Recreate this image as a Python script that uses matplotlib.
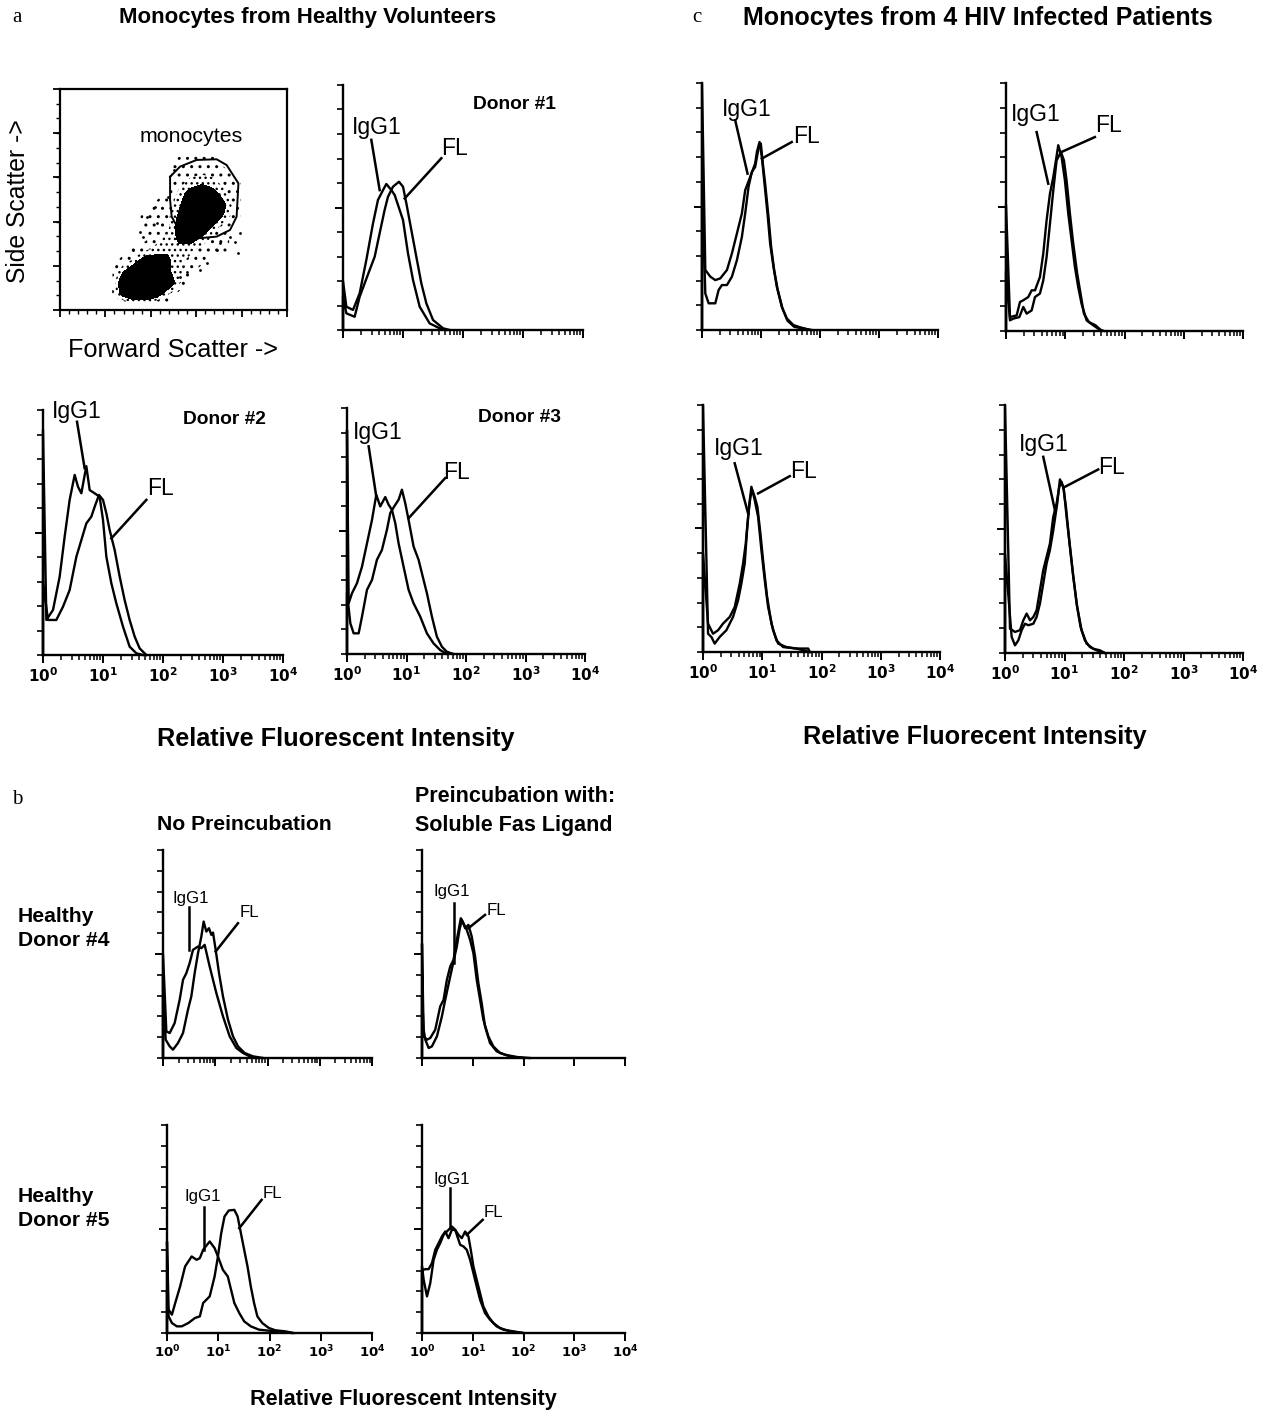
import numpy as np
import matplotlib
matplotlib.use("Agg")
import matplotlib.pyplot as plt
from matplotlib.ticker import FixedLocator, LogLocator, NullFormatter, MultipleLocator

plt.rcParams['font.family'] = ['Liberation Sans', 'DejaVu Sans']
plt.rcParams['mathtext.fontset'] = 'dejavusans'
plt.rcParams['hatch.color'] = 'black'
plt.rcParams['hatch.linewidth'] = 1.0

# ---------------- DATA ----------------
# Histogram curves: x in log10 decades of fluorescence (0 -> 10^0 ... 4 -> 10^4), y in % of axis height
D1_IGG_X = [0.0, 0.056, 0.167, 0.278, 0.389, 0.5, 0.583, 0.667, 0.722, 0.806, 0.861, 0.917, 1.0, 1.083, 1.167, 1.278, 1.444, 1.611, 1.722]
D1_IGG_Y = [20, 9.5, 8.2, 15.0, 28.6, 43.5, 53.1, 57.1, 59.6, 57.1, 55.1, 51.0, 44.9, 31.3, 20.4, 9.5, 2.7, 0.7, 0]
D1_FL_X = [0.0, 0.056, 0.194, 0.278, 0.444, 0.528, 0.611, 0.694, 0.75, 0.833, 0.933, 1.0, 1.056, 1.139, 1.222, 1.306, 1.389, 1.5, 1.667, 1.778]
D1_FL_Y = [14, 6.8, 5.4, 13.6, 24.5, 29.9, 39.5, 49.0, 54.4, 58.5, 60.5, 58.5, 51.7, 40.8, 29.9, 19.0, 10.9, 4.1, 0.7, 0]

D2_IGG_X = [0.0, 0.056, 0.167, 0.278, 0.361, 0.444, 0.528, 0.583, 0.639, 0.722, 0.778, 0.861, 0.944, 1.0, 1.056, 1.139, 1.222, 1.333, 1.444, 1.556, 1.667]
D2_IGG_Y = [92, 14.3, 18.4, 32.0, 48.3, 63.3, 73.5, 68.7, 66.0, 77.1, 67.3, 66.0, 64.6, 55.1, 40.1, 29.3, 21.1, 11.6, 3.4, 0.7, 0]
D2_FL_X = [0.0, 0.083, 0.222, 0.333, 0.444, 0.556, 0.639, 0.722, 0.806, 0.861, 0.933, 1.0, 1.056, 1.111, 1.194, 1.278, 1.361, 1.444, 1.528, 1.611, 1.722]
D2_FL_Y = [30, 14.3, 14.3, 19.7, 26.5, 40.1, 46.9, 53.7, 56.5, 60.5, 65.3, 63.3, 57.8, 51.0, 42.9, 32.0, 22.4, 14.3, 7.5, 2.7, 0]

D3_IGG_X = [0.0, 0.028, 0.084, 0.168, 0.252, 0.336, 0.42, 0.492, 0.559, 0.643, 0.699, 0.755, 0.811, 0.867, 0.951, 1.035, 1.119, 1.231, 1.343, 1.455, 1.566, 1.678]
D3_IGG_Y = [91, 20.6, 24.7, 28.8, 35.5, 45.0, 54.5, 64.7, 60.0, 63.8, 60.7, 58.6, 53.2, 45.0, 35.5, 26.1, 20.6, 15.2, 8.4, 4.3, 1.6, 0]
D3_FL_X = [0.0, 0.056, 0.112, 0.196, 0.252, 0.336, 0.42, 0.503, 0.587, 0.671, 0.727, 0.794, 0.867, 0.923, 0.979, 1.035, 1.119, 1.203, 1.287, 1.343, 1.427, 1.51, 1.594, 1.678, 1.79]
D3_FL_Y = [25, 12.5, 8.4, 8.4, 15.2, 26.1, 30.1, 38.3, 42.3, 50.5, 57.3, 60.0, 62.7, 66.8, 61.3, 54.5, 43.7, 38.3, 30.1, 24.7, 15.2, 7.1, 3.0, 0.9, 0]

HIV1_IGG_X = [0.0, 0.056, 0.141, 0.225, 0.31, 0.423, 0.507, 0.592, 0.676, 0.732, 0.817, 0.901, 0.93, 0.975, 1.014, 1.054, 1.11, 1.155, 1.211, 1.268, 1.352, 1.437, 1.549, 1.662, 1.831]
HIV1_IGG_Y = [100, 24.3, 21.6, 20.2, 20.9, 24.3, 31.0, 39.1, 47.2, 56.6, 62.0, 67.4, 72.1, 76.1, 70.1, 60.6, 47.2, 35.0, 25.6, 17.5, 9.4, 4.7, 2.0, 1.1, 0]
HIV1_FL_X = [0.0, 0.056, 0.113, 0.225, 0.282, 0.338, 0.423, 0.507, 0.592, 0.676, 0.732, 0.789, 0.845, 0.901, 0.958, 0.997, 1.031, 1.07, 1.127, 1.172, 1.223, 1.279, 1.363, 1.448, 1.561, 1.69, 1.859]
HIV1_FL_Y = [60, 14.8, 10.8, 10.8, 16.2, 18.2, 18.2, 21.6, 28.3, 37.7, 47.2, 58.0, 64.0, 66.0, 73.5, 75.5, 67.4, 59.3, 45.8, 33.7, 24.3, 16.8, 8.8, 3.8, 1.3, 0.7, 0]

HIV2_IGG_X = [0.0, 0.067, 0.18, 0.236, 0.292, 0.376, 0.433, 0.489, 0.573, 0.629, 0.685, 0.742, 0.798, 0.843, 0.882, 0.938, 0.994, 1.051, 1.107, 1.163, 1.219, 1.275, 1.36, 1.472, 1.612]
HIV2_IGG_Y = [51, 5.6, 6.3, 11.7, 12.4, 13.7, 16.4, 16.4, 21.8, 31.2, 44.6, 55.4, 62.1, 68.8, 74.9, 70.2, 60.8, 47.3, 36.6, 25.8, 17.7, 11.0, 4.3, 2.3, 0]
HIV2_FL_X = [0.0, 0.067, 0.124, 0.225, 0.292, 0.348, 0.433, 0.489, 0.573, 0.629, 0.685, 0.742, 0.798, 0.854, 0.927, 0.978, 1.022, 1.079, 1.135, 1.202, 1.258, 1.315, 1.399, 1.511, 1.596, 1.652]
HIV2_FL_Y = [24, 4.3, 5.0, 5.6, 9.7, 7.0, 8.3, 13.7, 15.1, 20.4, 29.8, 43.3, 56.7, 68.8, 72.2, 68.8, 60.8, 47.3, 35.2, 23.1, 15.1, 7.0, 3.6, 2.3, 0.5, 0]

HIV3_IGG_X = [0.0, 0.085, 0.141, 0.197, 0.282, 0.394, 0.507, 0.592, 0.648, 0.704, 0.744, 0.777, 0.817, 0.873, 0.93, 0.986, 1.042, 1.099, 1.183, 1.268, 1.408, 1.577, 1.775, 1.803]
HIV3_IGG_Y = [100, 7.4, 6.1, 3.4, 6.1, 8.8, 14.2, 20.9, 27.7, 35.8, 49.3, 58.8, 66.9, 61.5, 54.7, 41.2, 29.1, 18.2, 8.8, 3.4, 2.0, 1.4, 1.4, 0]
HIV3_FL_X = [0.0, 0.085, 0.169, 0.254, 0.338, 0.451, 0.535, 0.62, 0.676, 0.721, 0.761, 0.8, 0.834, 0.873, 0.918, 0.969, 1.025, 1.082, 1.155, 1.239, 1.352, 1.577, 1.803]
HIV3_FL_Y = [40, 11.5, 7.4, 8.8, 11.5, 14.2, 18.2, 27.7, 35.8, 43.9, 54.7, 62.8, 65.5, 62.8, 58.8, 48.0, 34.5, 22.3, 11.5, 4.7, 2.0, 1.4, 0]

HIV4_IGG_X = [0.0, 0.084, 0.168, 0.252, 0.308, 0.364, 0.42, 0.476, 0.531, 0.587, 0.643, 0.699, 0.755, 0.811, 0.867, 0.912, 0.951, 0.99, 1.035, 1.091, 1.147, 1.214, 1.287, 1.371, 1.483, 1.594, 1.678]
HIV4_IGG_Y = [100, 9.8, 8.5, 9.2, 13.2, 15.9, 13.2, 14.5, 17.2, 25.3, 33.4, 38.8, 44.1, 54.9, 60.3, 67.0, 69.0, 65.7, 54.9, 42.8, 30.7, 18.6, 9.2, 3.8, 1.7, 1.1, 0]
HIV4_FL_X = [0.0, 0.112, 0.168, 0.224, 0.28, 0.336, 0.392, 0.476, 0.531, 0.587, 0.643, 0.699, 0.755, 0.811, 0.878, 0.923, 0.979, 1.024, 1.08, 1.136, 1.203, 1.27, 1.343, 1.427, 1.538, 1.678]
HIV4_FL_Y = [40, 6.5, 3.1, 5.1, 9.2, 11.8, 11.2, 11.8, 14.5, 19.9, 28.0, 36.1, 41.5, 49.5, 60.3, 70.0, 67.0, 59.0, 45.5, 33.4, 19.9, 10.5, 5.1, 2.4, 1.1, 0]

D4_NO_IGG_X = [0.0, 0.064, 0.128, 0.223, 0.319, 0.383, 0.447, 0.51, 0.574, 0.67, 0.734, 0.797, 0.893, 1.021, 1.148, 1.276, 1.404, 1.531, 1.659, 1.786]
D4_NO_IGG_Y = [50, 12.8, 12.0, 16.8, 28.0, 37.6, 40.8, 45.6, 52.0, 53.6, 52.8, 54.4, 44.0, 31.2, 20.0, 10.4, 4.8, 2.4, 0.8, 0]
D4_NO_FL_X = [0.0, 0.051, 0.128, 0.191, 0.287, 0.383, 0.478, 0.542, 0.606, 0.67, 0.734, 0.778, 0.829, 0.88, 0.925, 0.957, 1.008, 1.072, 1.148, 1.244, 1.34, 1.435, 1.563, 1.722, 1.914]
D4_NO_FL_Y = [40, 8.8, 5.6, 4.0, 7.2, 12.0, 23.2, 29.6, 40.8, 50.4, 58.4, 65.6, 60.8, 62.4, 59.2, 60.3, 52.0, 40.8, 29.6, 18.4, 10.4, 5.6, 2.4, 0.8, 0]

D4_SFL_IGG_X = [0.0, 0.033, 0.098, 0.163, 0.261, 0.359, 0.425, 0.49, 0.556, 0.621, 0.686, 0.765, 0.817, 0.882, 0.948, 1.013, 1.078, 1.144, 1.209, 1.307, 1.405, 1.536, 1.732, 1.993]
D4_SFL_IGG_Y = [55, 10.4, 8.8, 9.6, 13.6, 24.8, 28.0, 37.6, 44.0, 47.2, 56.8, 67.2, 64.8, 61.6, 56.8, 50.4, 37.6, 28.0, 18.4, 10.4, 5.6, 2.4, 0.8, 0]
D4_SFL_FL_X = [0.0, 0.033, 0.065, 0.131, 0.196, 0.294, 0.392, 0.458, 0.542, 0.621, 0.686, 0.739, 0.784, 0.85, 0.915, 0.98, 1.046, 1.111, 1.176, 1.242, 1.34, 1.471, 1.634, 1.863, 2.124]
D4_SFL_FL_Y = [30, 13.6, 8.8, 4.8, 5.6, 10.4, 20.0, 28.0, 37.6, 46.4, 53.6, 61.6, 66.4, 62.4, 64.0, 58.4, 48.8, 36.0, 26.4, 15.2, 7.2, 3.2, 1.6, 0.5, 0]

D5_NO_IGG_X = [0.0, 0.032, 0.096, 0.16, 0.256, 0.353, 0.481, 0.577, 0.641, 0.705, 0.833, 0.929, 0.994, 1.09, 1.186, 1.25, 1.314, 1.41, 1.506, 1.635, 1.795, 2.115, 2.436]
D5_NO_IGG_Y = [44, 11.2, 8.8, 14.4, 22.4, 32.0, 36.8, 35.2, 36.0, 40.0, 44.0, 40.8, 36.8, 30.4, 27.2, 20.8, 14.4, 9.6, 5.6, 3.2, 1.6, 0.8, 0]
D5_NO_FL_X = [0.0, 0.032, 0.096, 0.192, 0.288, 0.417, 0.545, 0.641, 0.705, 0.833, 0.929, 0.994, 1.058, 1.122, 1.205, 1.314, 1.378, 1.442, 1.506, 1.571, 1.635, 1.699, 1.763, 1.859, 1.987, 2.115, 2.308, 2.468]
D5_NO_FL_Y = [20, 8.0, 4.8, 3.2, 3.2, 4.8, 7.2, 8.0, 14.4, 17.6, 27.2, 36.8, 48.0, 56.0, 58.9, 59.2, 56.0, 48.0, 40.0, 32.0, 22.4, 14.4, 8.0, 4.8, 2.4, 1.3, 0.8, 0]

D5_SFL_IGG_X = [0.0, 0.033, 0.098, 0.163, 0.229, 0.294, 0.359, 0.425, 0.49, 0.588, 0.654, 0.686, 0.752, 0.817, 0.882, 0.948, 1.013, 1.078, 1.144, 1.242, 1.34, 1.471, 1.601, 1.797, 1.993]
D5_SFL_IGG_Y = [32, 25.6, 17.6, 24.0, 35.2, 40.0, 43.2, 47.2, 48.8, 51.2, 49.6, 47.2, 42.4, 41.6, 40.0, 35.2, 28.8, 22.4, 16.0, 9.6, 6.4, 3.2, 1.6, 0.8, 0]
D5_SFL_FL_X = [0.0, 0.033, 0.065, 0.131, 0.196, 0.261, 0.327, 0.392, 0.458, 0.523, 0.588, 0.654, 0.719, 0.784, 0.85, 0.915, 0.961, 1.013, 1.078, 1.144, 1.209, 1.307, 1.405, 1.536, 1.732, 1.993]
D5_SFL_FL_Y = [30, 30.4, 30.7, 30.7, 33.6, 40.0, 43.2, 46.4, 48.8, 45.6, 49.6, 49.6, 47.2, 45.6, 48.8, 46.4, 40.0, 32.0, 25.6, 19.2, 12.8, 8.0, 4.8, 2.4, 0.8, 0]

DECADE_LABELS = [r'$\mathbf{10^{0}}$', r'$\mathbf{10^{1}}$', r'$\mathbf{10^{2}}$', r'$\mathbf{10^{3}}$', r'$\mathbf{10^{4}}$']

# Scatter plot (forward vs side scatter, channels 0-1000): density of events per 50x50 cell, rows listed top to bottom
SCATTER_DENSITY_ROWS = [
    "00000000000000000000",
    "00000000000000000000",
    "00000000000000000000",
    "00000000000000000000",
    "00000000000000000000",
    "00000000000000000000",
    "00000000001111000000",
    "00000000002222100000",
    "00000000002343210000",
    "00000000013686310000",
    "00000000114898510000",
    "00000001125997410000",
    "00000001126984100000",
    "00000000235642100000",
    "00000012344321100000",
    "00000136653210000000",
    "00000478753100000000",
    "00000799973000000000",
    "00000699730000000000",
    "00000011000000000000",
]
SCATTER_OUTLIER_FSC = [793, 786, 771, 690, 646, 617, 558, 529, 419, 383, 427, 352, 366, 322, 500, 477, 749, 705, 467, 427]
SCATTER_OUTLIER_SSC = [350, 256, 309, 271, 211, 181, 173, 151, 468, 422, 392, 354, 332, 271, 633, 513, 332, 302, 136, 121]
GATE_FSC = [485, 529, 602, 690, 734, 786, 778, 749, 690, 602, 529, 492, 485, 485]
GATE_SSC = [603, 649, 679, 682, 656, 573, 422, 362, 332, 324, 354, 422, 498, 603]

# ---------------- LAYOUT ----------------
W, H = 1264, 1414
fig = plt.figure(figsize=(W / 100, H / 100), dpi=100)


def add_ax(l, t, r, b):
    return fig.add_axes([l / W, 1 - b / H, (r - l) / W, (b - t) / H])


def ftext(x, y, s, **kw):
    fig.text(x / W, 1 - y / H, s, **kw)


def hist_panel(box, curves, ann, labels, lab_fs, tick_fs, title=None):
    ax = add_ax(*box)
    ax.set_xscale('log')
    ax.set_xlim(1, 1e4)
    ax.set_ylim(0, 100)
    for lx, ly in curves:
        xs = 10 ** np.array([lx[0]] + list(lx))
        ys = [0] + list(ly)
        ax.plot(xs, ys, color='black', lw=1.7, clip_on=False)
    for s in ('top', 'right'):
        ax.spines[s].set_visible(False)
    for s in ('left', 'bottom'):
        ax.spines[s].set_linewidth(1.7)
    ax.xaxis.set_major_locator(FixedLocator([1, 10, 100, 1000, 10000]))
    ax.xaxis.set_minor_locator(LogLocator(base=10, subs=np.arange(2, 10)))
    ax.xaxis.set_minor_formatter(NullFormatter())
    ax.yaxis.set_major_locator(FixedLocator([50]))
    ax.yaxis.set_minor_locator(FixedLocator([0, 10, 20, 30, 40, 60, 70, 80, 90, 100]))
    ax.tick_params(axis='x', which='major', direction='out', length=6, width=1.4, pad=2)
    ax.tick_params(axis='x', which='minor', direction='out', length=3.5, width=1.1)
    ax.tick_params(axis='y', which='major', direction='out', length=6, width=1.4)
    ax.tick_params(axis='y', which='minor', direction='out', length=4, width=1.2)
    ax.set_yticklabels([])
    if labels:
        ax.set_xticklabels(DECADE_LABELS, fontsize=tick_fs)
    else:
        ax.set_xticklabels([])
    (itx, ity), ((ia, iy1), (ib, iy2)), (ftx, fty), ((fa, fy1), (fb, fy2)) = ann
    ax.text(10 ** itx, ity, 'IgG1', ha='center', va='center', fontsize=lab_fs, clip_on=False)
    ax.plot([10 ** ia, 10 ** ib], [iy1, iy2], color='black', lw=1.8, clip_on=False)
    ax.text(10 ** ftx, fty, 'FL', ha='center', va='center', fontsize=lab_fs, clip_on=False)
    ax.plot([10 ** fa, 10 ** fb], [fy1, fy2], color='black', lw=1.8, clip_on=False)
    if title:
        t, tx, ty = title
        ax.text(10 ** tx, ty, t, ha='center', va='center', fontsize=13.8, fontweight='bold')
    return ax


# ---- scatter plot ----
sax = add_ax(60, 89, 287, 310)
Z = np.array([[int(ch) for ch in row] for row in SCATTER_DENSITY_ROWS[::-1]], float)
centers = (np.arange(Z.shape[1]) + 0.5) * 50
sax.contourf(centers, centers, Z, levels=[0.6, 2.5, 4.5], colors='none', hatches=['..', '...'])
sax.contourf(centers, centers, Z, levels=[4.5, 10], colors='black')
sax.scatter(SCATTER_OUTLIER_FSC, SCATTER_OUTLIER_SSC, s=4, color='black', lw=0)
sax.plot(GATE_FSC, GATE_SSC, color='black', lw=1.4)
sax.set_xlim(0, 1000)
sax.set_ylim(0, 1000)
for s in sax.spines.values():
    s.set_linewidth(1.6)
sax.xaxis.set_major_locator(MultipleLocator(200))
sax.xaxis.set_minor_locator(MultipleLocator(40))
sax.yaxis.set_major_locator(MultipleLocator(200))
sax.yaxis.set_minor_locator(MultipleLocator(66.67))
sax.tick_params(which='major', direction='out', length=5, width=1.3)
sax.tick_params(which='minor', direction='out', length=3, width=1.0)
sax.set_xticklabels([])
sax.set_yticklabels([])
sax.text(577, 787, 'monocytes', ha='center', va='center', fontsize=15.4)
ftext(18, 201, 'Side Scatter ->', rotation=90, ha='center', va='center', fontsize=17.8)
ftext(173, 350, 'Forward Scatter ->', ha='center', va='center', fontsize=18.2)

# ---- panel a histograms ----
hist_panel((343, 85, 583, 330), [(D1_IGG_X, D1_IGG_Y), (D1_FL_X, D1_FL_Y)],
           ((0.556, 82.7), ((0.472, 77.6), (0.611, 57.1)), (1.861, 73.9), ((1.639, 70.1), (1.028, 53.7))),
           False, 16.5, 11, ('Donor #1', 2.85, 92))
hist_panel((43, 410, 283, 655), [(D2_IGG_X, D2_IGG_Y), (D2_FL_X, D2_FL_Y)],
           ((0.556, 99.3), ((0.567, 95.2), (0.694, 76.2)), (1.956, 68.0), ((1.722, 63.3), (1.139, 47.6))),
           True, 16.5, 11, ('Donor #2', 3.03, 96))
hist_panel((347, 408, 585, 654), [(D3_IGG_X, D3_IGG_Y), (D3_FL_X, D3_FL_Y)],
           ((0.515, 90.1), ((0.364, 84.4), (0.492, 64.0)), (1.846, 73.8), ((1.65, 71.5), (1.035, 55.2))),
           True, 16.5, 11, ('Donor #3', 2.9, 96.3))

# ---- panel c histograms ----
hist_panel((702, 83, 938, 330), [(HIV1_IGG_X, HIV1_IGG_Y), (HIV1_FL_X, HIV1_FL_Y)],
           ((0.75, 89.2), ((0.563, 84.9), (0.772, 63.3)), (1.763, 78.2), ((1.521, 76.1), (1.014, 69.4))),
           False, 16.5, 11)
hist_panel((1006, 83, 1243, 331), [(HIV2_IGG_X, HIV2_IGG_Y), (HIV2_FL_X, HIV2_FL_Y)],
           ((0.506, 87.2), ((0.517, 80.2), (0.713, 59.4)), (1.725, 82.9), ((1.5, 78.2), (0.938, 72.2))),
           False, 16.5, 11)
hist_panel((703, 405, 940, 652), [(HIV3_IGG_X, HIV3_IGG_Y), (HIV3_FL_X, HIV3_FL_Y)],
           ((0.608, 82.4), ((0.535, 76.4), (0.761, 56.1)), (1.701, 73.2), ((1.465, 71.2), (0.93, 64.2))),
           True, 16.5, 11)
hist_panel((1005, 405, 1243, 653), [(HIV4_IGG_X, HIV4_IGG_Y), (HIV4_FL_X, HIV4_FL_Y)],
           ((0.655, 84.1), ((0.643, 79.1), (0.839, 57.6)), (1.79, 74.7), ((1.566, 74.0), (1.007, 67.0))),
           True, 16.5, 11)

# ---- panel b histograms ----
hist_panel((163, 850, 372, 1058), [(D4_NO_IGG_X, D4_NO_IGG_Y), (D4_NO_FL_X, D4_NO_FL_Y)],
           ((0.523, 76.8), ((0.498, 72.8), (0.498, 52.0)), (1.659, 69.9), ((1.435, 64.8), (1.008, 51.2))),
           False, 12.2, 9.5)
hist_panel((422, 850, 625, 1058), [(D4_SFL_IGG_X, D4_SFL_IGG_Y), (D4_SFL_FL_X, D4_SFL_FL_Y)],
           ((0.588, 80.0), ((0.621, 74.4), (0.621, 45.6)), (1.458, 70.7), ((1.242, 68.8), (0.915, 62.4))),
           False, 12.2, 9.5)
hist_panel((167, 1125, 372, 1333), [(D5_NO_IGG_X, D5_NO_IGG_Y), (D5_NO_FL_X, D5_NO_FL_Y)],
           ((0.692, 65.6), ((0.718, 60.8), (0.718, 40.0)), (2.064, 66.9), ((1.846, 64.0), (1.41, 50.4))),
           True, 12.2, 9.5)
hist_panel((422, 1125, 625, 1333), [(D5_SFL_IGG_X, D5_SFL_IGG_Y), (D5_SFL_FL_X, D5_SFL_FL_Y)],
           ((0.588, 73.6), ((0.542, 69.6), (0.542, 50.4)), (1.405, 57.9), ((1.196, 54.4), (0.882, 47.2))),
           True, 12.2, 9.5)

# ---- texts ----
serif = ['Liberation Serif', 'DejaVu Serif']
ftext(12, 18, 'a', family=serif, fontsize=15, ha='left', va='center')
ftext(692, 18, 'c', family=serif, fontsize=15, ha='left', va='center')
ftext(12, 800, 'b', family=serif, fontsize=15, ha='left', va='center')
ftext(308, 18, 'Monocytes from Healthy Volunteers', fontsize=16, fontweight='bold', ha='center', va='center')
ftext(978, 18, 'Monocytes from 4 HIV Infected Patients', fontsize=18, fontweight='bold', ha='center', va='center')
ftext(336, 739, 'Relative Fluorescent Intensity', fontsize=18.2, fontweight='bold', ha='center', va='center')
ftext(975, 737, 'Relative Fluorecent Intensity', fontsize=18.2, fontweight='bold', ha='center', va='center')
ftext(244, 825, 'No Preincubation', fontsize=15.2, fontweight='bold', ha='center', va='center')
ftext(415, 796, 'Preincubation with:', fontsize=15.5, fontweight='bold', ha='left', va='center')
ftext(415, 825, 'Soluble Fas Ligand', fontsize=15.5, fontweight='bold', ha='left', va='center')
ftext(18, 916, 'Healthy', fontsize=15.2, fontweight='bold', ha='left', va='center')
ftext(18, 940, 'Donor #4', fontsize=15.2, fontweight='bold', ha='left', va='center')
ftext(18, 1196, 'Healthy', fontsize=15.2, fontweight='bold', ha='left', va='center')
ftext(18, 1220, 'Donor #5', fontsize=15.2, fontweight='bold', ha='left', va='center')
ftext(403, 1400, 'Relative Fluorescent Intensity', fontsize=15.6, fontweight='bold', ha='center', va='center')

fig.savefig('out.png', dpi=100, facecolor='white')
